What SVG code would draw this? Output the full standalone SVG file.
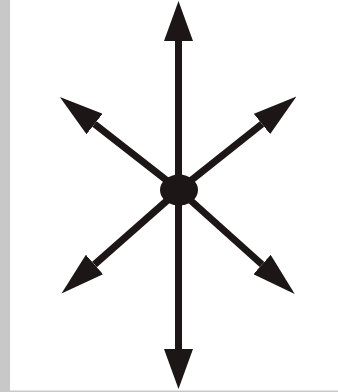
<svg xmlns="http://www.w3.org/2000/svg" width="338" height="392" viewBox="0 0 338 392">
<style>
.ln{stroke:#1c1616;stroke-width:7;fill:none}
.hd{fill:#1c1616}
</style>
<defs>
<marker id="av" markerUnits="userSpaceOnUse" viewBox="0 0 40 29" refX="0" refY="14.5" markerWidth="40" markerHeight="29" orient="auto"><path class="hd" d="M0,0 L40,14.5 L0,29 Z"/></marker>
<marker id="ad" markerUnits="userSpaceOnUse" viewBox="0 0 44 26" refX="0" refY="13" markerWidth="44" markerHeight="26" orient="auto"><path class="hd" d="M0,0 L44,13 L0,26 Z"/></marker>
</defs>
<rect x="0" y="0" width="338" height="392" fill="#ffffff"/>
<rect x="0" y="0" width="10" height="392" fill="#c8c8c8"/>
<rect x="0" y="390.5" width="338" height="1.5" fill="#c8c8c8"/>
<g id="connectors">
<line class="ln" x1="178.5" y1="190" x2="178.5" y2="41" marker-end="url(#av)"/>
<line class="ln" x1="178.5" y1="190" x2="178.5" y2="349" marker-end="url(#av)"/>
<line class="ln" x1="179" y1="190" x2="94.5" y2="124" marker-end="url(#ad)"/>
<line class="ln" x1="179" y1="190" x2="262" y2="124" marker-end="url(#ad)"/>
<line class="ln" x1="179" y1="190" x2="94.5" y2="264.5" marker-end="url(#ad)"/>
<line class="ln" x1="179" y1="190" x2="262" y2="264.5" marker-end="url(#ad)"/>
</g>
<g id="center">
<ellipse cx="179" cy="190" rx="19" ry="15.5" fill="#1c1616"/>
</g>
</svg>
